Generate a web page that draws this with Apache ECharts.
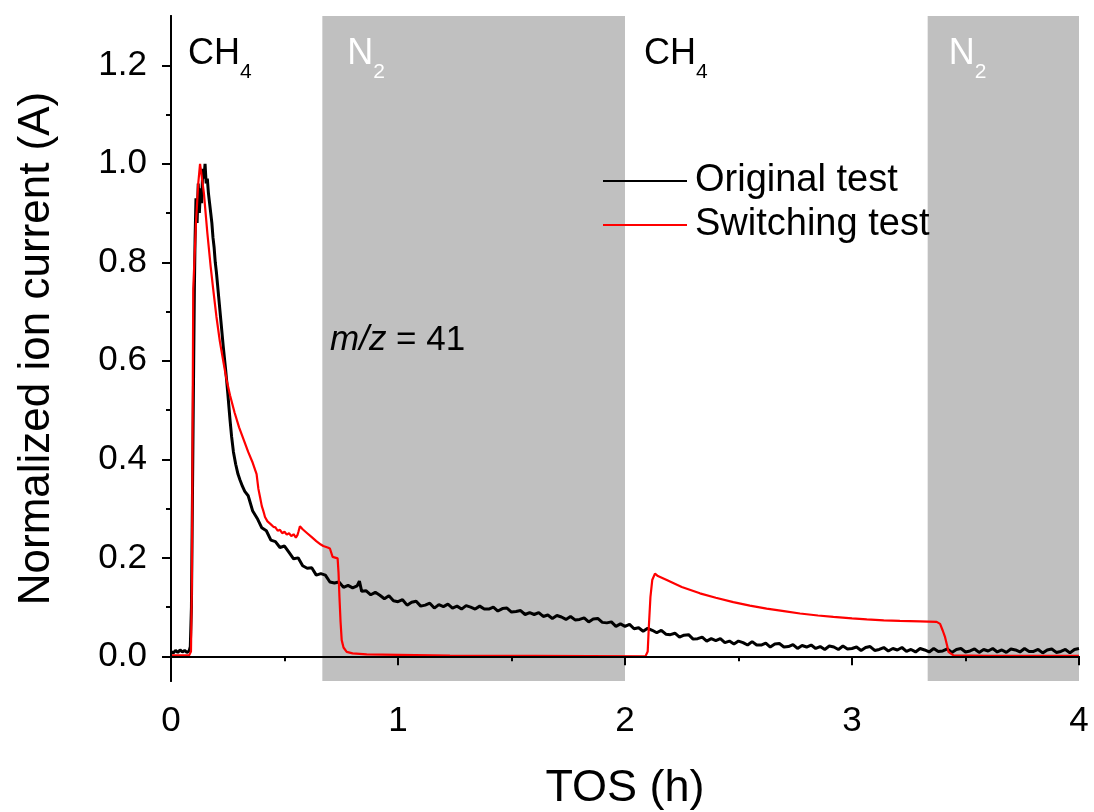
<!DOCTYPE html>
<html>
<head>
<meta charset="utf-8">
<script src="https://cdn.jsdelivr.net/npm/echarts@6/dist/echarts.min.js"></script>
<style>
  html, body { margin: 0; padding: 0; background: #fff; }
  #chart { width: 1094px; height: 812px; }
</style>
</head>
<body>
<div id="chart"></div>
<script>
const FONT = '"Liberation Sans", Arial, Helvetica, sans-serif';

// Time on stream (h) vs normalized ion current, m/z = 41
const originalTest = [
  [0,0.010],[0.01,0.007],[0.02,0.012],[0.03,0.008],[0.04,0.013],[0.05,0.009],[0.06,0.012],[0.07,0.008],[0.08,0.011],
  [0.085,0.02],[0.09,0.10],[0.095,0.35],[0.10,0.60],[0.103,0.745],[0.106,0.846],[0.11,0.93],[0.115,0.88],[0.12,0.96],
  [0.125,0.90],[0.13,0.95],[0.135,0.92],[0.14,0.99],[0.145,0.97],[0.15,1.00],[0.155,0.96],[0.16,0.97],[0.165,0.94],
  [0.17,0.92],[0.175,0.90],[0.18,0.88],[0.185,0.85],[0.19,0.83],[0.195,0.80],[0.20,0.78],[0.205,0.755],[0.21,0.73],
  [0.22,0.68],[0.23,0.63],[0.24,0.585],[0.245,0.561],[0.25,0.535],[0.26,0.48],[0.267,0.446],[0.275,0.415],[0.285,0.39],
  [0.295,0.37],[0.304,0.358],[0.315,0.345],[0.325,0.335],
  [0.34,0.326],[0.36,0.295],[0.38,0.280],[0.40,0.261],[0.42,0.255],[0.44,0.236],[0.46,0.233],[0.48,0.221],[0.50,0.224],
  [0.52,0.211],[0.54,0.198],[0.56,0.200],[0.58,0.184],[0.60,0.179],[0.62,0.180],[0.64,0.165],[0.66,0.168],[0.68,0.165],
  [0.70,0.151],[0.72,0.149],[0.74,0.151],[0.76,0.140],[0.78,0.144],[0.80,0.139],[0.82,0.143],[0.83,0.153],[0.84,0.132],
  [0.86,0.133],[0.88,0.125],[0.90,0.130],[0.92,0.124],[0.94,0.117],[0.96,0.123],[0.98,0.113],[1.00,0.111],[1.02,0.115],
  [1.04,0.104],[1.06,0.110],[1.08,0.112],[1.10,0.102],[1.12,0.104],[1.14,0.108],[1.16,0.098],[1.18,0.105],[1.20,0.101],
  [1.22,0.106],[1.24,0.098],[1.26,0.102],[1.28,0.096],[1.30,0.103],[1.32,0.100],[1.34,0.096],[1.36,0.102],[1.38,0.096],
  [1.40,0.096],[1.42,0.100],[1.44,0.092],[1.46,0.097],[1.48,0.098],[1.50,0.090],[1.52,0.091],[1.54,0.093],[1.56,0.085],
  [1.58,0.089],[1.60,0.085],[1.62,0.089],[1.64,0.081],[1.66,0.084],[1.68,0.077],[1.70,0.083],[1.72,0.080],[1.74,0.075],
  [1.76,0.081],[1.78,0.074],[1.80,0.075],[1.82,0.078],[1.84,0.070],[1.86,0.076],[1.88,0.077],[1.90,0.069],[1.92,0.068],
  [1.94,0.070],[1.96,0.061],[1.98,0.066],[2.00,0.061],[2.02,0.065],[2.04,0.056],[2.06,0.058],[2.08,0.051],[2.10,0.057],
  [2.12,0.053],[2.14,0.048],[2.16,0.053],[2.18,0.045],[2.20,0.044],[2.22,0.047],[2.24,0.039],[2.26,0.043],[2.28,0.044],
  [2.30,0.035],[2.32,0.036],[2.34,0.039],[2.36,0.031],[2.38,0.036],[2.40,0.032],[2.42,0.036],[2.44,0.028],[2.46,0.031],
  [2.48,0.025],[2.50,0.031],[2.52,0.028],[2.54,0.023],[2.56,0.030],[2.58,0.023],[2.60,0.023],[2.62,0.027],[2.64,0.019],
  [2.66,0.025],[2.68,0.026],[2.70,0.019],[2.72,0.020],[2.74,0.024],[2.76,0.016],[2.78,0.022],[2.80,0.019],[2.82,0.023],
  [2.84,0.016],[2.86,0.020],[2.88,0.014],[2.90,0.021],[2.92,0.019],[2.94,0.014],[2.96,0.021],[2.98,0.015],[3.00,0.016],
  [3.02,0.019],[3.04,0.012],[3.06,0.018],[3.08,0.020],[3.10,0.012],[3.12,0.014],[3.14,0.018],[3.16,0.011],[3.18,0.016],
  [3.20,0.013],[3.22,0.018],[3.24,0.010],[3.26,0.014],[3.28,0.009],[3.30,0.016],[3.32,0.013],[3.34,0.009],[3.36,0.016],
  [3.38,0.010],[3.40,0.011],[3.42,0.015],[3.44,0.008],[3.46,0.014],[3.48,0.016],[3.50,0.009],[3.52,0.011],[3.54,0.015],
  [3.56,0.008],[3.58,0.014],[3.60,0.011],[3.62,0.016],[3.64,0.009],[3.66,0.013],[3.68,0.008],[3.70,0.015],[3.72,0.013],
  [3.74,0.009],[3.76,0.016],[3.78,0.010],[3.80,0.010],[3.82,0.014],[3.84,0.007],[3.86,0.013],[3.88,0.015],[3.90,0.008],
  [3.92,0.010],[3.94,0.014],[3.96,0.007],[3.98,0.014],[4.00,0.016]
];

const switchingTest = [
  [0,0.002],[0.04,0.002],[0.08,0.002],[0.088,0.010],[0.092,0.15],[0.096,0.55],[0.098,0.745],[0.11,0.88],[0.12,0.96],
  [0.128,1.0],[0.135,1.0],[0.145,0.94],[0.16,0.86],[0.175,0.79],[0.186,0.745],[0.20,0.69],[0.215,0.64],[0.23,0.60],
  [0.245,0.561],[0.26,0.53],[0.28,0.495],[0.30,0.465],[0.32,0.44],[0.34,0.415],[0.36,0.393],[0.377,0.370],[0.385,0.340],
  [0.392,0.324],[0.40,0.305],[0.405,0.298],[0.41,0.290],[0.414,0.283],[0.42,0.280],[0.425,0.274],[0.43,0.276],
  [0.44,0.268],[0.451,0.263],[0.46,0.262],[0.47,0.255],[0.48,0.257],[0.49,0.250],[0.50,0.253],[0.51,0.247],[0.52,0.250],
  [0.53,0.244],[0.54,0.248],[0.55,0.241],[0.557,0.246],[0.562,0.254],[0.568,0.264],[0.58,0.258],[0.60,0.250],[0.62,0.242],
  [0.64,0.234],[0.66,0.227],[0.671,0.224],[0.69,0.221],[0.70,0.219],[0.712,0.202],[0.734,0.199],[0.738,0.170],
  [0.742,0.121],[0.747,0.070],[0.752,0.033],[0.76,0.018],[0.774,0.009],[0.80,0.006],[0.862,0.004],[1.0,0.003],
  [1.229,0.0015],[1.6,0.001],[2.09,0.000],[2.10,0.010],[2.105,0.060],[2.112,0.120],[2.12,0.155],[2.132,0.168],
  [2.145,0.163],[2.184,0.155],[2.25,0.141],[2.33,0.128],[2.40,0.119],[2.477,0.110],[2.55,0.103],[2.624,0.097],
  [2.70,0.092],[2.771,0.087],[2.85,0.083],[2.918,0.080],[3.0,0.077],[3.065,0.075],[3.14,0.073],[3.211,0.072],
  [3.30,0.071],[3.373,0.070],[3.388,0.066],[3.40,0.052],[3.41,0.039],[3.42,0.020],[3.425,0.009],[3.447,0.002],
  [3.6,0.001],[4.0,0.001]
];

// Gas feed periods
const periodStart = [0, 2 / 3, 2.0, 10 / 3];
const periodEnd = [2 / 3, 2.0, 10 / 3, 4.0];
const periodGas = ['CH4', 'N2', 'CH4', 'N2'];

const yMajorTicks = [0, 0.2, 0.4, 0.6, 0.8, 1.0, 1.2];
const yMinorTicks = [0.1, 0.3, 0.5, 0.7, 0.9, 1.1];

const gasLabel = {
  CH4: { text: '{m|CH}{s|4}', fill: 'rgba(0,0,0,0)', color: '#000' },
  N2: { text: '{m|N}{s|2}', fill: '#c0c0c0', color: '#fff' }
};
const labelOffsetX = [17, 25, 19, 21];

function periodAreas() {
  return periodStart.map((s, i) => {
    const g = gasLabel[periodGas[i]];
    return [
      {
        xAxis: s,
        itemStyle: { color: g.fill },
        label: {
          show: true,
          position: [labelOffsetX[i], 20],
          formatter: g.text,
          rich: {
            m: { fontSize: 36, lineHeight: 36, verticalAlign: 'top', color: g.color, fontFamily: FONT },
            s: { fontSize: 21, lineHeight: 47, verticalAlign: 'bottom', color: g.color, fontFamily: FONT }
          }
        }
      },
      { xAxis: periodEnd[i] }
    ];
  });
}

const chart = echarts.init(document.getElementById('chart'), null, { renderer: 'canvas' });

const tickStyle = { color: '#000', width: 2 };

chart.setOption({
  animation: false,
  backgroundColor: '#fff',
  textStyle: { fontFamily: FONT },
  grid: { left: 171, right: 15, top: 16, bottom: 131, containLabel: false, outerBoundsMode: 'none' },
  legend: {
    orient: 'vertical',
    left: 603,
    top: 159,
    padding: 0,
    itemGap: 0,
    itemWidth: 84,
    itemHeight: 2,
    icon: 'rect',
    textStyle: { fontSize: 38, color: '#000', lineHeight: 44, padding: [0, 0, 0, 3], fontFamily: FONT },
    data: ['Original test', 'Switching test']
  },
  xAxis: [
    {
      type: 'value', min: 0, max: 4, interval: 1, z: 10,
      name: 'TOS (h)', nameLocation: 'middle', nameGap: 85,
      nameTextStyle: { fontSize: 45, color: '#000', fontFamily: FONT },
      axisLine: { show: true, lineStyle: { color: '#000', width: 2 } },
      axisTick: { show: true, inside: false, length: 9, lineStyle: tickStyle },
      minorTick: { show: true, splitNumber: 2, length: 5, lineStyle: tickStyle },
      axisLabel: { fontSize: 35, color: '#000', margin: 23, fontFamily: FONT },
      splitLine: { show: false }
    },
    {
      type: 'value', min: 0, max: 4, position: 'top', z: 10,
      axisLine: { show: true, lineStyle: { color: '#000', width: 2 } },
      axisTick: { show: false }, axisLabel: { show: false }, splitLine: { show: false }
    }
  ],
  yAxis: [
    {
      type: 'value', min: -0.05, max: 1.3, z: 10,
      name: 'Normalized ion current (A)', nameLocation: 'middle', nameGap: 112,
      nameTextStyle: { fontSize: 44, color: '#000', fontFamily: FONT },
      axisLine: { show: true, onZero: false, lineStyle: { color: '#000', width: 2 } },
      axisTick: { show: true, inside: false, length: 9, customValues: yMajorTicks, lineStyle: tickStyle },
      axisLabel: {
        fontSize: 35, color: '#000', margin: 24, fontFamily: FONT,
        customValues: yMajorTicks,
        formatter: v => v.toFixed(1)
      },
      splitLine: { show: false }
    },
    {
      type: 'value', min: -0.05, max: 1.3, position: 'left', z: 10,
      axisLine: { show: false },
      axisTick: { show: true, inside: false, length: 5, customValues: yMinorTicks, lineStyle: tickStyle },
      axisLabel: { show: false },
      splitLine: { show: false }
    },
    {
      type: 'value', min: -0.05, max: 1.3, position: 'right', z: 10,
      axisLine: { show: true, lineStyle: { color: '#000', width: 2 } },
      axisTick: { show: false }, axisLabel: { show: false }, splitLine: { show: false }
    }
  ],
  graphic: [
    {
      type: 'text',
      left: 330,
      top: 323,
      z: 20,
      style: {
        text: '{i|m/z} = 41',
        fontSize: 35,
        fontFamily: FONT,
        fill: '#000',
        rich: { i: { fontSize: 35, fontStyle: 'italic', fontFamily: FONT, color: '#000' } }
      }
    }
  ],
  series: [
    {
      name: 'Original test',
      type: 'line',
      data: originalTest,
      showSymbol: false,
      symbol: 'none',
      color: '#000',
      lineStyle: { color: '#000', width: 3 },
      z: 3,
      markArea: { silent: true, z: 1, data: periodAreas() }
    },
    {
      name: 'Switching test',
      type: 'line',
      data: switchingTest,
      showSymbol: false,
      symbol: 'none',
      color: '#ff0000',
      lineStyle: { color: '#ff0000', width: 2.2 },
      z: 4
    }
  ]
});
</script>
</body>
</html>
